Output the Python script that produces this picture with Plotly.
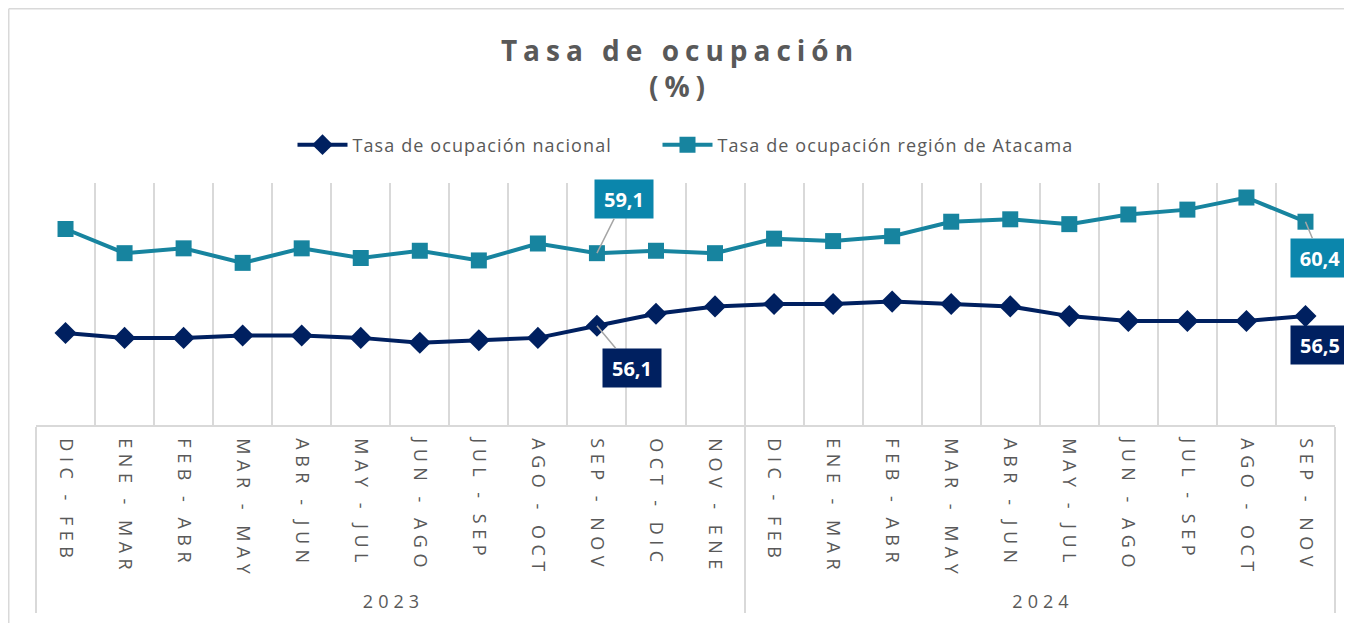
import plotly.graph_objects as go

# ---------------- data ----------------
years = ["2023"] * 12 + ["2024"] * 10
periods = ["DIC - FEB", "ENE - MAR", "FEB - ABR", "MAR - MAY", "ABR - JUN", "MAY - JUL",
           "JUN - AGO", "JUL - SEP", "AGO - OCT", "SEP - NOV", "OCT - DIC", "NOV - ENE",
           "DIC - FEB", "ENE - MAR", "FEB - ABR", "MAR - MAY", "ABR - JUN", "MAY - JUL",
           "JUN - AGO", "JUL - SEP", "AGO - OCT", "SEP - NOV"]
nacional = [55.8, 55.6, 55.6, 55.7, 55.7, 55.6, 55.4, 55.5, 55.6, 56.1, 56.6, 56.9,
            57.0, 57.0, 57.1, 57.0, 56.9, 56.5, 56.3, 56.3, 56.3, 56.5]
atacama = [60.1, 59.1, 59.3, 58.7, 59.3, 58.9, 59.2, 58.8, 59.5, 59.1, 59.2, 59.1,
           59.7, 59.6, 59.8, 60.4, 60.5, 60.3, 60.7, 60.9, 61.4, 60.4]
series_names = ["Tasa de ocupación nacional", "Tasa de ocupación región de Atacama"]
title_lines = ["Tasa de ocupación", "(%)"]

# ---------------- styles ----------------
NAVY = "#002060"
TEAL = "#17849F"
TEAL_BOX = "#0B86AC"
GRAY_TXT = "#595959"
GRID = "#D9D9D9"
FONT = "Open Sans"

# page body has an 8px margin: figure origin sits at (8, 8) on screen
FW, FH = 1344, 615
L, T, W, H = 28, 175, 1299, 242


def spaced(s, px):
    return f'<span style="letter-spacing:{px}px">{s}</span>'


x_years = [spaced(y, 5) for y in years]
x_periods = [spaced(p, 5.5) for p in periods]
xcat = [x_years, x_periods]

fig = go.Figure()
fig.add_trace(go.Scatter(
    x=xcat, y=nacional, name=spaced(series_names[0], 1.1), mode="lines+markers",
    line=dict(color=NAVY, width=4),
    marker=dict(symbol="diamond", size=17, color=NAVY),
    legendwidth=300,
))
fig.add_trace(go.Scatter(
    x=xcat, y=atacama, name=spaced(series_names[1], 1.1), mode="lines+markers",
    line=dict(color=TEAL, width=4),
    marker=dict(symbol="square", size=16, color=TEAL),
))


def fmt(v):
    return f"{v:.1f}".replace(".", ",")


def label(idx, vals, color, ax, ay, arrow=True):
    d = dict(
        x=idx, y=vals[idx], xref="x", yref="y",
        text=f"<b>{fmt(vals[idx])}</b>",
        font=dict(family=FONT, size=20, color="white"),
        bgcolor=color, width=54, height=34, borderpad=2,
        showarrow=True, arrowhead=0, arrowwidth=1.5, arrowcolor="#A6A6A6",
        ax=ax, ay=ay,
    )
    if not arrow:
        d.update(showarrow=False, xshift=ax, yshift=-ay)
    fig.add_annotation(**d)


label(9, atacama, TEAL_BOX, 27, -54)
label(9, nacional, NAVY, 35, 42)
label(21, atacama, TEAL_BOX, 15, 36)
label(21, nacional, NAVY, 15, 29, arrow=False)

# outer chart border (top, left, right)
def px_x(X):
    return (X - L) / W


def px_y(Y):
    return (T + H - Y) / H


for x0, y0, x1, y1 in [(0.75, 0.75, 1339, 0.75), (0.75, 0.75, 0.75, 640), (1339, 0.75, 1339, 640)]:
    fig.add_shape(type="line", xref="paper", yref="paper",
                  x0=px_x(x0), y0=px_y(y0), x1=px_x(x1), y1=px_y(y1),
                  line=dict(color=GRID, width=1.5))

fig.update_layout(
    width=FW, height=FH,
    margin=dict(l=L, r=FW - L - W, t=T, b=FH - T - H),
    paper_bgcolor="white", plot_bgcolor="white",
    font=dict(family=FONT, color=GRAY_TXT),
    title=dict(
        text="<b>" + "<br>".join(spaced(t, 6) for t in title_lines) + "</b>",
        x=0.5, xanchor="center", y=1 - 53 / FH, yanchor="middle",
        font=dict(family=FONT, size=28, color=GRAY_TXT),
    ),
    legend=dict(
        orientation="h", x=0.5, xanchor="center", y=1 + 38 / H, yanchor="middle",
        font=dict(family=FONT, size=18, color=GRAY_TXT), itemwidth=50,
        bgcolor="rgba(0,0,0,0)",
    ),
    showlegend=True,
    xaxis=dict(
        type="multicategory", range=[-0.5, 21.5], tickson="boundaries",
        showgrid=True, gridcolor=GRID, gridwidth=1.5,
        showline=True, linecolor=GRID, linewidth=1.5,
        ticks="", tickangle=90, ticklabelstandoff=8,
        tickfont=dict(family=FONT, size=18, color=GRAY_TXT),
        showdividers=True, dividercolor=GRID, dividerwidth=1.5,
    ),
    yaxis=dict(range=[52, 62], showgrid=False, showticklabels=False,
               zeroline=False, showline=False, ticks=""),
)

fig.write_html("out.html")
